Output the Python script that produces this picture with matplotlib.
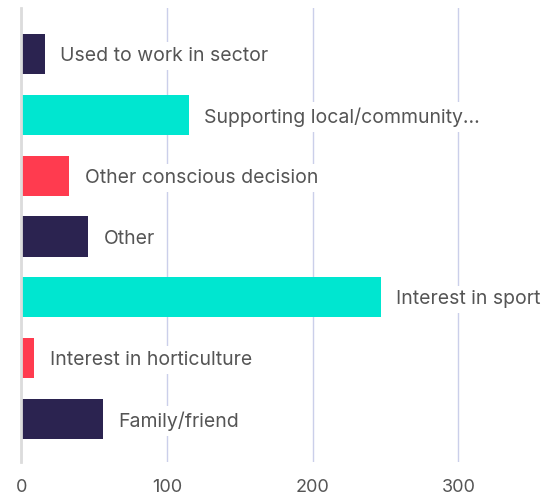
import matplotlib
matplotlib.use("Agg")
import matplotlib.pyplot as plt

# Reasons given, listed top to bottom
categories = [
    "Used to work in sector",
    "Supporting local/community...",
    "Other conscious decision",
    "Other",
    "Interest in sport",
    "Interest in horticulture",
    "Family/friend",
]
counts = [16, 115, 33, 46, 247, 9, 56]
bar_colors = ["#2b2350", "#00e6d0", "#ff3b4f", "#2b2350", "#00e6d0", "#ff3b4f", "#2b2350"]
x_ticks = [0, 100, 200, 300]

plt.rcParams["font.family"] = ["Inter", "DejaVu Sans"]

fig = plt.figure(figsize=(5.45, 5.0), dpi=100)
ax = fig.add_axes([21.3 / 545, 1 - 462 / 500, 1 - 21.3 / 545, (462 - 8) / 500])

y = list(range(len(categories)))
ax.barh(y, counts, height=0.66, color=bar_colors, zorder=2)

ax.set_xlim(0, 359.5)
ax.set_ylim(len(categories) - 1 + 0.71, -0.76)

ax.set_xticks(x_ticks)
ax.set_xticklabels([str(t) for t in x_ticks])
ax.set_yticks([])
ax.tick_params(axis="x", length=0, pad=12, labelsize=13, labelcolor="#555555")

ax.grid(axis="x", color="#cbcfea", linewidth=1, zorder=0)
ax.set_axisbelow(True)
for side in ("top", "right", "bottom"):
    ax.spines[side].set_visible(False)
ax.spines["left"].set_color("#dcdcdc")
ax.spines["left"].set_linewidth(2)
ax.spines["left"].set_zorder(3)

for yi, (name, val) in enumerate(zip(categories, counts)):
    ax.annotate(
        name,
        xy=(val, yi),
        xytext=(11, -1.5),
        textcoords="offset points",
        va="center",
        ha="left",
        fontsize=14,
        color="#555555",
        bbox=dict(boxstyle="square,pad=0.25", facecolor="white", edgecolor="none"),
        zorder=4,
    )

fig.savefig("out.png", dpi=100, facecolor="white")
